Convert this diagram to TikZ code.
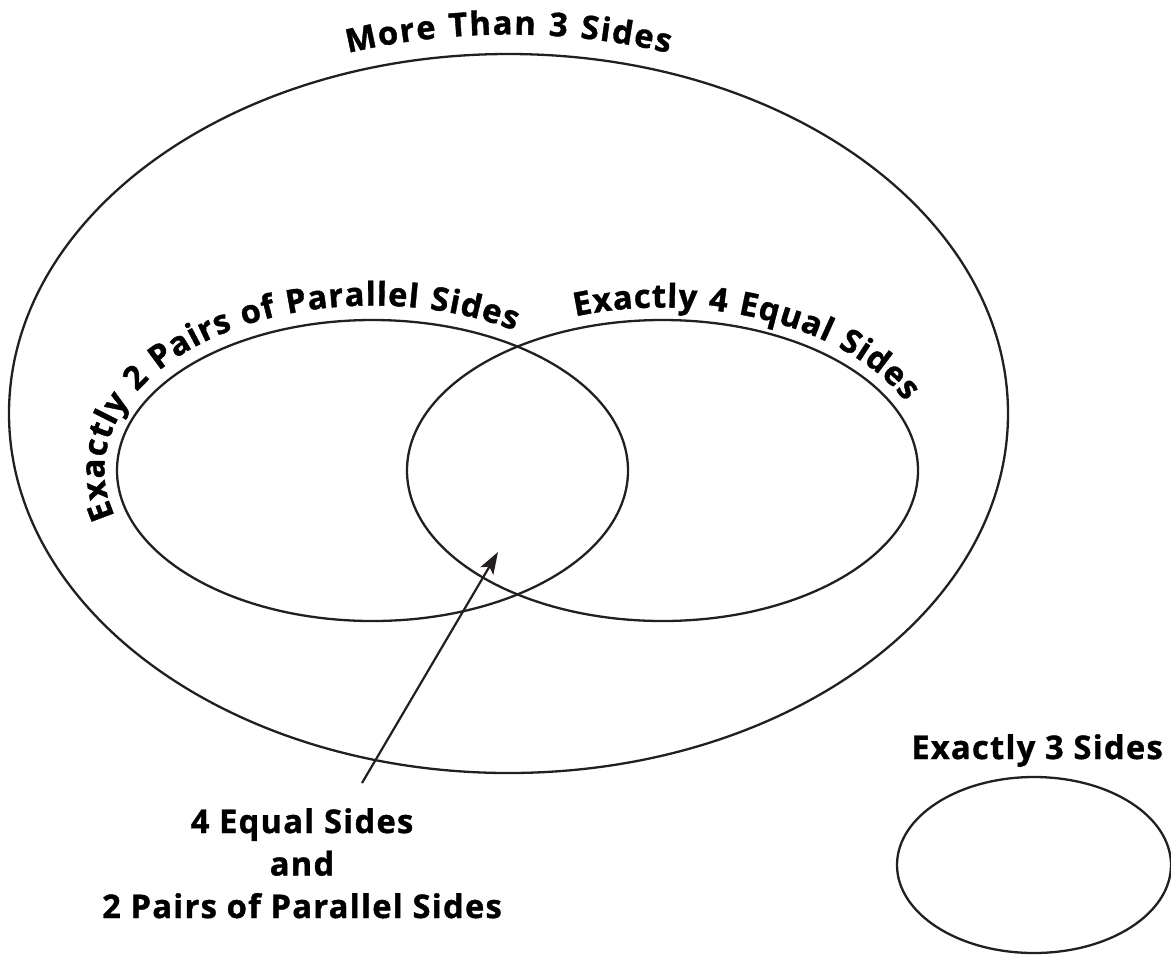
\documentclass[tikz,border=0pt]{standalone}
\usepackage{fontspec}
\setmainfont{Open Sans}[LetterSpace=4,BoldFeatures={FakeBold=1.2}]
\usetikzlibrary{decorations.text,arrows.meta}
\definecolor{ink}{HTML}{231F20}
\newcommand\lblfont{\fontsize{16.3}{21.25}\selectfont\bfseries}
\begin{document}
\begin{tikzpicture}[x=0.5pt,y=0.5pt,
  setline/.style={draw=ink,line width=1.15pt},
  lbl/.style={font=\lblfont,text=black,inner sep=0pt},
  conn/.style={draw=ink,line width=1.1pt,-{Stealth[length=11pt,width=7.5pt,inset=2.5pt]}},
  curved/.style={decorate,decoration={text along path,text={|\lblfont|#1},text align={fit to path}}}]
\useasboundingbox (0,0) rectangle (1171,-954);
% sets
\draw[setline] (508.5,-413.5) ellipse [x radius=499.5, y radius=359.5];
\draw[setline] (372.5,-470.5) ellipse [x radius=255.5, y radius=150.5];
\draw[setline] (662.5,-470.5) ellipse [x radius=255.5, y radius=150.5];
\draw[setline] (1034,-865) ellipse [x radius=137, y radius=88];
% curved labels
\path[curved={More Than 3 Sides}] (508.5,-413.5) ++(108:519 and 379) arc[start angle=108, end angle=72, x radius=519, y radius=379];
\path[curved={Exactly 2 Pairs of Parallel Sides}] (372.5,-470.5) ++(196:268 and 165) arc[start angle=196, end angle=58, x radius=268, y radius=165];
\path[curved={Exactly 4 Equal Sides}] (662.5,-470.5) ++(109:268 and 163) arc[start angle=109, end angle=25, x radius=268, y radius=163];
% straight labels
\node[lbl,anchor=base] (three) at (1037,-759) {Exactly 3 Sides};
\node[lbl,align=center,anchor=base] (both) at (302,-918) {4 Equal Sides\\and\\2 Pairs of Parallel Sides};
% pointer
\coordinate (astart) at (362,-783);
\coordinate (atip) at (498,-552);
\draw[conn] (astart) -- (atip);
\end{tikzpicture}
\end{document}
